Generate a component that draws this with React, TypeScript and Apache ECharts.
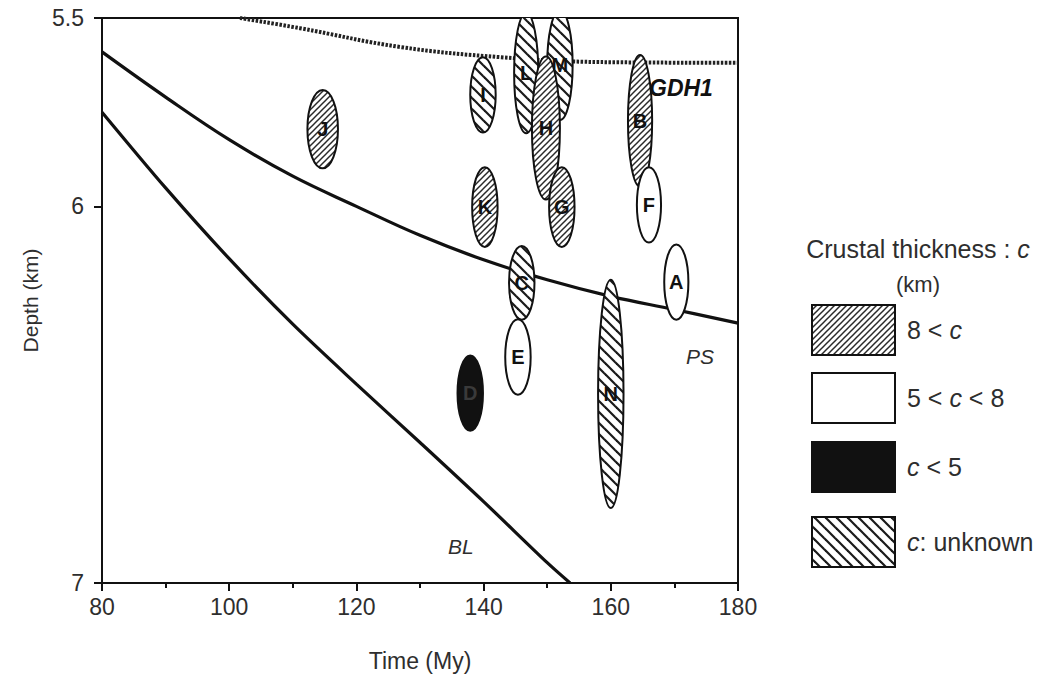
import React, { useEffect, useRef } from "react";
import * as echarts from "echarts";

// ---- Data ----
// PS (plate model) subsidence curve
const psTime = [80, 90, 100, 110, 120, 130, 140, 150, 160, 170, 180];
const psDepth = [5.59, 5.71, 5.823, 5.92, 6.0, 6.077, 6.142, 6.195, 6.239, 6.274, 6.31];
// BL (boundary layer) curve
const blTime = [80, 90, 100, 110, 120, 130, 140, 150, 153.6];
const blDepth = [5.75, 5.951, 6.139, 6.313, 6.472, 6.627, 6.784, 6.946, 7.0];
// GDH1 curve
const gdhTime = [101.7, 111.1, 126.9, 142.6, 158.3, 180];
const gdhDepth = [5.5, 5.527, 5.577, 5.604, 5.617, 5.619];

// Sites (ellipses)
const siteNames = ["L", "M", "H", "G", "I", "K", "B", "F", "J", "C", "E", "A", "N", "D"];
const siteTime = [146.7, 152.0, 149.8, 152.3, 139.9, 140.2, 164.6, 166.0, 114.7, 146.0, 145.4, 170.3, 160.0, 137.9];
const siteDepth = [5.646, 5.625, 5.792, 6.002, 5.704, 6.002, 5.773, 5.996, 5.795, 6.203, 6.4, 6.201, 6.498, 6.496];
const siteHalfTime = [1.9, 2.0, 2.2, 2.0, 2.0, 2.0, 1.9, 1.9, 2.4, 2.0, 2.0, 1.9, 2.0, 2.0];
const siteHalfDepth = [0.16, 0.146, 0.19, 0.106, 0.1, 0.106, 0.175, 0.1, 0.104, 0.098, 0.1, 0.1, 0.303, 0.1];
const siteClass = ["unknown", "unknown", "thick", "thick", "unknown", "thick", "thick", "mid", "thick", "unknown", "mid", "mid", "unknown", "thin"];

const xTicks = [80, 100, 120, 140, 160, 180];
const yTicks = [5.5, 6, 7];

const legendClasses = ["thick", "mid", "thin", "unknown"];
const legendLabels = ["8 < {i|c}", "5 < {i|c} < 8", "{i|c} < 5", "{i|c}: unknown"];

const FONT = '"Liberation Sans", Arial, Helvetica, sans-serif';
const TXT = "#2e2e2e";

function hatch(size: number, lw: number, color: string, forward: boolean) {
  const c = document.createElement("canvas");
  c.width = size;
  c.height = size;
  const g = c.getContext("2d")!;
  g.fillStyle = "#fff";
  g.fillRect(0, 0, size, size);
  g.strokeStyle = color;
  g.lineWidth = lw;
  g.lineCap = "square";
  for (const k of [-1, 0, 1]) {
    g.beginPath();
    if (forward) {
      g.moveTo(k * size, size);
      g.lineTo(k * size + size, 0);
    } else {
      g.moveTo(k * size, 0);
      g.lineTo(k * size + size, size);
    }
    g.stroke();
  }
  return c;
}

export default function App() {
  const ref = useRef<HTMLDivElement>(null);
  useEffect(() => {
    if (!ref.current) return;
    const chart = echarts.init(ref.current, null, { renderer: "svg" });

    const thickCanvas = hatch(6, 1.5, "#2a2a2a", true);
    const unkCanvas = hatch(11, 2.2, "#1a1a1a", false);
    const fills: Record<string, any> = {
      thick: { image: thickCanvas, repeat: "repeat", imageWidth: 6, imageHeight: 6 },
      unknown: { image: unkCanvas, repeat: "repeat", imageWidth: 11, imageHeight: 11 },
      mid: "#ffffff",
      thin: "#111111",
    };

    const siteData = siteNames.map((_, i) => [siteTime[i], siteDepth[i], siteHalfTime[i], siteHalfDepth[i]]);

    const lineSeries = (name: string, t: number[], d: number[], style: any, smooth: number) => ({
      name,
      type: "line",
      data: t.map((x, i) => [x, d[i]]),
      smooth,
      showSymbol: false,
      symbol: "none",
      lineStyle: style,
      silent: true,
      z: 2,
      clip: true,
    });

    const legendGraphics: any[] = [
      {
        type: "text",
        x: 918,
        y: 249,
        style: {
          text: "{a|Crustal thickness : }{i|c}",
          align: "center",
          verticalAlign: "middle",
          rich: {
            a: { fontSize: 25, fontFamily: FONT, fill: TXT },
            i: { fontSize: 25, fontFamily: FONT, fontStyle: "italic", fill: TXT },
          },
        },
      },
      {
        type: "text",
        x: 918,
        y: 284,
        style: { text: "(km)", align: "center", verticalAlign: "middle", fontSize: 22, fontFamily: FONT, fill: TXT },
      },
    ];
    const boxY = [305, 373, 442, 517];
    legendClasses.forEach((cls, i) => {
      legendGraphics.push({
        type: "rect",
        shape: { x: 812, y: boxY[i], width: 83, height: 50 },
        style: { fill: fills[cls], stroke: "#111", lineWidth: 2 },
      });
      legendGraphics.push({
        type: "text",
        x: 907,
        y: boxY[i] + 25,
        style: {
          text: legendLabels[i],
          align: "left",
          verticalAlign: "middle",
          rich: {
            i: { fontSize: 25, fontFamily: FONT, fontStyle: "italic", fill: TXT },
          },
          fontSize: 25,
          fontFamily: FONT,
          fill: TXT,
        },
      });
    });
    legendGraphics.push(
      {
        type: "text",
        x: 649,
        y: 88,
        z: 10,
        style: { text: "GDH1", fontSize: 23, fontWeight: "bold", fontStyle: "italic", fontFamily: FONT, fill: "#111", verticalAlign: "middle" },
      },
      {
        type: "text",
        x: 686,
        y: 356,
        style: { text: "PS", fontSize: 21, fontStyle: "italic", fontFamily: FONT, fill: TXT, verticalAlign: "middle" },
      },
      {
        type: "text",
        x: 448,
        y: 546,
        style: { text: "BL", fontSize: 21, fontStyle: "italic", fontFamily: FONT, fill: TXT, verticalAlign: "middle" },
      }
    );

    chart.setOption({
      animation: false,
      backgroundColor: "#fff",
      grid: {
        left: 102,
        top: 18,
        width: 636,
        height: 565,
        show: true,
        borderColor: "#111",
        borderWidth: 2,
        backgroundColor: "transparent",
      },
      xAxis: {
        type: "value",
        min: 80,
        max: 180,
        interval: 20,
        name: "Time (My)",
        nameLocation: "middle",
        nameGap: 66,
        nameTextStyle: { fontSize: 23, fontFamily: FONT, color: TXT },
        axisLine: { show: true, lineStyle: { color: "#111", width: 2 } },
        axisTick: { show: true, length: 8, lineStyle: { color: "#111", width: 2 } },
        minorTick: { show: true, splitNumber: 2, length: 5, lineStyle: { color: "#111", width: 2 } },
        axisLabel: { margin: 12, fontSize: 23, fontFamily: FONT, color: TXT, customValues: xTicks },
        splitLine: { show: false },
        minorSplitLine: { show: false },
      },
      yAxis: {
        type: "value",
        inverse: true,
        min: 5.5,
        max: 7,
        name: "Depth (km)",
        nameLocation: "middle",
        nameGap: 60,
        nameTextStyle: { fontSize: 21, fontFamily: FONT, color: TXT },
        axisLine: { show: true, lineStyle: { color: "#111", width: 2 } },
        axisTick: { show: true, length: 8, lineStyle: { color: "#111", width: 2 }, customValues: yTicks },
        axisLabel: {
          margin: 18,
          fontSize: 23,
          fontFamily: FONT,
          color: TXT,
          customValues: yTicks,
          formatter: (v: number) => (v === 5.5 ? "5.5" : String(v)),
        },
        splitLine: { show: false },
      },
      graphic: legendGraphics,
      series: [
        lineSeries("PS", psTime, psDepth, { color: "#111", width: 3.2 }, 0.4),
        lineSeries("BL", blTime, blDepth, { color: "#111", width: 3.2 }, 0.3),
        lineSeries("GDH1", gdhTime, gdhDepth, { color: "#222", width: 4, type: [2.5, 1.5] }, 0.4),
        {
          type: "custom",
          name: "sites",
          clip: true,
          z: 5,
          silent: true,
          data: siteData,
          encode: { x: 0, y: 1 },
          renderItem: (params: any, api: any) => {
            const i = params.dataIndex;
            const t = api.value(0);
            const d = api.value(1);
            const rt = api.value(2);
            const rd = api.value(3);
            const c = api.coord([t, d]);
            const px = api.coord([t + rt, d]);
            const py = api.coord([t, d + rd]);
            const rx = Math.abs(px[0] - c[0]);
            const ry = Math.abs(py[1] - c[1]);
            const cls = siteClass[i];
            return {
              type: "group",
              children: [
                {
                  type: "ellipse",
                  shape: { cx: c[0], cy: c[1], rx, ry },
                  style: { fill: fills[cls], stroke: "#111", lineWidth: 2 },
                },
                {
                  type: "text",
                  x: c[0],
                  y: c[1],
                  style: {
                    text: siteNames[i],
                    align: "center",
                    verticalAlign: "middle",
                    fontSize: 20,
                    fontWeight: "bold",
                    fontFamily: FONT,
                    fill: cls === "thin" ? "#3a3a3a" : "#111111",
                  },
                },
              ],
            };
          },
        },
      ],
    });
    return () => chart.dispose();
  }, []);
  return <div ref={ref} style={{ position: "fixed", left: 0, top: 0, width: 1048, height: 684, background: "#fff" }} />;
}
